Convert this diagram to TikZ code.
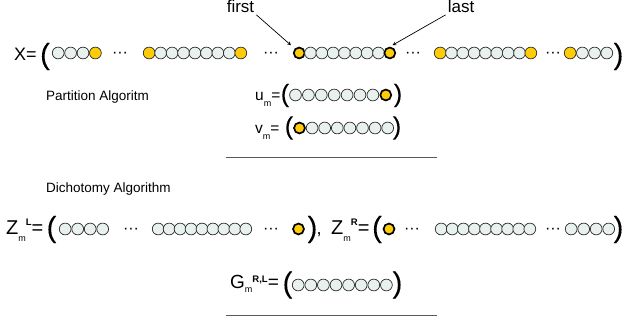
\documentclass[tikz,border=0pt]{standalone}
\usepackage{fontspec}
\setmainfont{Liberation Sans}
\newfontfamily\parenfont[FakeBold=0.08]{Liberation Sans}
\usepackage{tikz}
\usetikzlibrary{arrows}
\definecolor{cellfill}{RGB}{232,241,238}
\definecolor{cellline}{RGB}{45,45,45}
\definecolor{cellgold}{RGB}{255,204,10}
\definecolor{rulegrey}{RGB}{90,90,90}
\newcommand{\fsz}[1]{\fontsize{#1}{#1}\selectfont}
\newcommand{\subtag}[2][-6pt]{\raisebox{#1}{\fsz{9}#2}}
\newcommand{\suptag}[2][9pt]{\raisebox{#1}{\fsz{9.5}\bfseries #2}}
\tikzstyle{cell} = [circle, draw=cellline, fill=cellfill, line width=0.7pt, minimum size=11.8pt, inner sep=0pt]
\tikzstyle{gold} = [cell, fill=cellgold]
\tikzstyle{pick} = [gold, draw=black, line width=1.7pt, minimum size=10.9pt]
\tikzstyle{paren} = [inner sep=0pt, font=\parenfont\fsz{29}]
\tikzstyle{ellip} = [anchor=base, inner sep=0pt, font=\fsz{16}]
\tikzstyle{term} = [anchor=base west, inner sep=0pt, font=\fsz{18}]
\tikzstyle{algo} = [anchor=base west, inner sep=0pt, font=\fsz{13.5}]
\tikzstyle{arrow} = [line width=0.7pt,->,>=stealth]
\tikzstyle{sepline} = [draw=rulegrey, line width=0.8pt]

\begin{document}
\begin{tikzpicture}[x=1pt, y=-1pt]
\useasboundingbox (0,0) rectangle (624,320);
% X row
\node (X) [term] at (14,61) {X=};
\node (xl) [paren] at (45,56.5) {(};
\node (a1) [cell] at (58.2,53) {};
\foreach \i [count=\j from 2] in {1,2} \node (a\j) [cell, node distance=12.4pt, right of=a\i] {};
\node (a4) [gold, node distance=12.4pt, right of=a3] {};
\node (d1) [ellip] at (120,58) {···};
\node (b1) [gold] at (149.2,53) {};
\foreach \i [count=\j from 2] in {1,...,7} \node (b\j) [cell, node distance=11.45pt, right of=b\i] {};
\node (b9) [gold, node distance=11.45pt, right of=b8] {};
\node (d2) [ellip] at (271,58) {···};
\node (c1) [pick] at (299.2,53) {};
\foreach \i [count=\j from 2] in {1,...,7} \node (c\j) [cell, node distance=11.33pt, right of=c\i] {};
\node (c9) [pick, node distance=11.33pt, right of=c8] {};
\node (d3) [ellip] at (413,58) {···};
\node (e1) [gold] at (440.2,53) {};
\foreach \i [count=\j from 2] in {1,...,7} \node (e\j) [cell, node distance=11.33pt, right of=e\i] {};
\node (e9) [gold, node distance=11.33pt, right of=e8] {};
\node (d4) [ellip] at (553,58) {···};
\node (f1) [gold] at (570.2,53) {};
\foreach \i [count=\j from 2] in {1,2,3} \node (f\j) [cell, node distance=12.2pt, right of=f\i] {};
\node (xr) [paren] at (618.5,56.5) {)};
\node (first) [anchor=base, inner sep=2pt, font=\fsz{17}] at (240.5,12.5) {first};
\node (last) [anchor=base, inner sep=2pt, font=\fsz{17}] at (461,12.5) {last};
\draw [arrow, shorten >=5pt] (first.south east) -- (c1.north west);
\draw [arrow, shorten >=3pt] (last.south west) -- (c9.north);
% partition
\node (part) [algo] at (46,101) {Partition Algoritm};
\node (u) [term, font=\fsz{15.5}] at (255,101) {u\subtag{m}=};
\node (ul) [paren, font=\parenfont\fsz{25}] at (285,95.5) {(};
\foreach \i in {1,...,7} \node (u\i) [cell] at ({295.5+(\i-1)*12.9},95) {};
\node (u8) [pick, node distance=12.9pt, right of=u7] {};
\node (ur) [paren, font=\parenfont\fsz{25}] at (398,95.5) {)};
\node (v) [term, font=\fsz{15.5}] at (255,134) {v\subtag{m}=};
\node (vl) [paren, font=\parenfont\fsz{25}] at (289,128) {(};
\node (v1) [pick] at (299.5,128) {};
\foreach \i [count=\j from 2] in {1,...,7} \node (v\j) [cell, node distance=12.6pt, right of=v\i] {};
\node (vr) [paren, font=\parenfont\fsz{25}] at (397,128) {)};
\draw [sepline] (226,157) -- (437,157);
% dichotomy
\node (dich) [algo] at (46,193) {Dichotomy Algorithm};
\node (zl) [term, font=\fsz{20}] at (6,235) {Z\subtag[-7pt]{m}\suptag{L}=};
\node (zll) [paren] at (51.5,229.5) {(};
\node (h1) [cell] at (65.2,229) {};
\foreach \i [count=\j from 2] in {1,2,3} \node (h\j) [cell, node distance=12.5pt, right of=h\i] {};
\node (d5) [ellip] at (131,234) {···};
\node (k1) [cell] at (158.2,229) {};
\foreach \i [count=\j from 2] in {1,...,8} \node (k\j) [cell, node distance=10.95pt, right of=k\i] {};
\node (d6) [ellip] at (271,234) {···};
\node (zlast) [pick] at (298.5,229) {};
\node (zlr) [paren] at (312.5,229.5) {)};
\node (comma) [term] at (316.5,235) {,};
\node (zr) [term, font=\fsz{20}] at (331,235) {Z\subtag[-7pt]{m}\suptag{R}=};
\node (zrl) [paren] at (377,229.5) {(};
\node (zfirst) [pick] at (389,229) {};
\node (d7) [ellip] at (412,234) {···};
\node (n1) [cell] at (441.2,229) {};
\foreach \i [count=\j from 2] in {1,...,8} \node (n\j) [cell, node distance=11.08pt, right of=n\i] {};
\node (d8) [ellip] at (553,234) {···};
\node (p1) [cell] at (571.2,229) {};
\foreach \i [count=\j from 2] in {1,2,3} \node (p\j) [cell, node distance=12.5pt, right of=p\i] {};
\node (zrr) [paren] at (618.5,229.5) {)};
% merged
\node (g) [term, font=\fsz{19}] at (230,289) {G\subtag[-4pt]{m}\suptag[6pt]{R,L}=};
\node (gl) [paren] at (287.5,285) {(};
\node (g1) [cell] at (298.2,285) {};
\foreach \i [count=\j from 2] in {1,...,7} \node (g\j) [cell, node distance=12.6pt, right of=g\i] {};
\node (gr) [paren] at (397.5,285) {)};
\draw [sepline] (226,315) -- (437,315);
\end{tikzpicture}
\end{document}
